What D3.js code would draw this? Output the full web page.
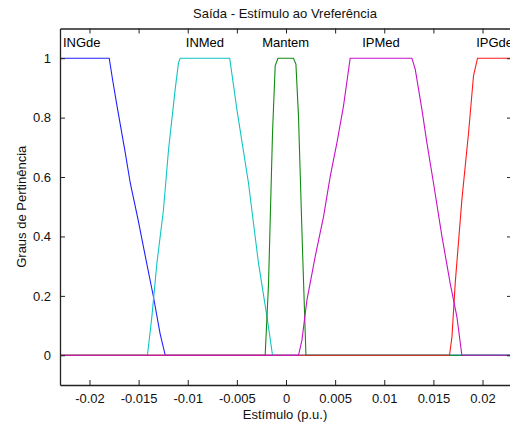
<!DOCTYPE html>
<html>
<head>
<meta charset="utf-8">
<script src="https://cdn.jsdelivr.net/npm/d3@7"></script>
<style>
  html, body { margin: 0; padding: 0; background: #fff; }
  svg { display: block; font-family: "Liberation Sans", Arial, Helvetica, sans-serif; }
</style>
</head>
<body>
<div id="chart"></div>
<script>
// ---- data ----
const title = "Saída - Estímulo ao Vreferência";
const xLabel = "Estímulo (p.u.)";
const yLabel = "Graus de Pertinência";
const xDomain = [-0.023, 0.023];
const yDomain = [-0.1, 1.1];
const xTicks = [-0.02, -0.015, -0.01, -0.005, 0, 0.005, 0.01, 0.015, 0.02];
const xTickLabels = ["-0.02", "-0.015", "-0.01", "-0.005", "0", "0.005", "0.01", "0.015", "0.02"];
const yTicks = [0, 0.2, 0.4, 0.6, 0.8, 1];
const yTickLabels = ["0", "0.2", "0.4", "0.6", "0.8", "1"];

const names = ["INGde", "INMed", "Mantem", "IPMed", "IPGde"];

const xINGde = [-0.023, -0.01799, -0.01766, -0.01715, -0.01640, -0.01585, -0.01505, -0.01418, -0.01349, -0.01282, -0.01229, 0.023];
const yINGde = [1, 1, 0.93, 0.83, 0.69, 0.58, 0.456, 0.31, 0.197, 0.074, 0, 0];

const xINMed = [-0.023, -0.01410, -0.01365, -0.01314, -0.01247, -0.01196, -0.01128, -0.01094, -0.01077, -0.00573, -0.00500, -0.00382, -0.00280, -0.00194, -0.00137, 0.023];
const yINMed = [0, 0, 0.13, 0.31, 0.49, 0.69, 0.895, 0.985, 1, 1, 0.828, 0.58, 0.31, 0.13, 0, 0];

const xMantem = [-0.023, -0.00212, -0.00178, -0.00137, -0.00110, -0.00082, 0.00076, 0.00101, 0.00127, 0.00168, 0.00203, 0.023];
const yMantem = [0, 0, 0.24, 0.75, 0.974, 1, 1, 0.98, 0.805, 0.355, 0, 0];

const xIPMed = [-0.023, 0.00127, 0.00162, 0.00213, 0.00297, 0.00382, 0.00450, 0.00518, 0.00585, 0.00653, 0.01281, 0.01315, 0.01383, 0.01434, 0.01501, 0.01587, 0.01671, 0.01739, 0.01790, 0.023];
const yIPMed = [0, 0, 0.05, 0.186, 0.332, 0.467, 0.602, 0.715, 0.839, 1, 1, 0.963, 0.828, 0.715, 0.58, 0.4, 0.242, 0.13, 0, 0];

const xIPGde = [-0.023, 0.01664, 0.01689, 0.01722, 0.01790, 0.01858, 0.01908, 0.01949, 0.023];
const yIPGde = [0, 0, 0.062, 0.242, 0.524, 0.749, 0.94, 1, 1];

const colors = ["#2020ff", "#10c4c4", "#108a10", "#c810c8", "#ff1a1a"];

// ---- build ----
const series = [
  { name: names[0], xs: xINGde, ys: yINGde, color: colors[0] },
  { name: names[1], xs: xINMed, ys: yINMed, color: colors[1] },
  { name: names[2], xs: xMantem, ys: yMantem, color: colors[2] },
  { name: names[3], xs: xIPMed, ys: yIPMed, color: colors[3] },
  { name: names[4], xs: xIPGde, ys: yIPGde, color: colors[4] }
];

const W = 510, H = 426;
const m = { left: 60, top: 28.5, right: 512, bottom: 385 };

const svg = d3.select("#chart").append("svg").attr("width", W).attr("height", H);

const x = d3.scaleLinear().domain(xDomain).range([m.left, m.right]);
const y = d3.scaleLinear().domain(yDomain).range([m.bottom, m.top]);

const defs = svg.append("defs");
defs.append("clipPath").attr("id", "clip").append("rect")
  .attr("x", m.left).attr("y", m.top).attr("width", m.right - m.left).attr("height", m.bottom - m.top);

// lines (drawn so the magenta-ish baseline shows on top)
const line = d3.line().x(d => x(d[0])).y(d => y(d[1]));
const order = [0, 1, 2, 4, 3];
const gLines = svg.append("g").attr("clip-path", "url(#clip)");
order.forEach(i => {
  const s = series[i];
  gLines.append("path")
    .datum(d3.zip(s.xs, s.ys))
    .attr("d", line)
    .attr("fill", "none")
    .attr("stroke", s.color)
    .attr("stroke-width", 1.1);
});

// labels of the membership functions
const lblY = y(1.05);
series.forEach((s, i) => {
  const plateau = s.xs.filter((v, j) => s.ys[j] === 1 && v > xDomain[0] && v < xDomain[1]);
  let px, anchor;
  if (i === 0) { px = x(xDomain[0]) + 3; anchor = "start"; }
  else if (i === series.length - 1) { px = x(xDomain[1]) + 1; anchor = "end"; }
  else { px = x((d3.min(plateau) + d3.max(plateau)) / 2); anchor = "middle"; }
  svg.append("text")
    .attr("x", px).attr("y", lblY)
    .attr("text-anchor", anchor)
    .attr("dominant-baseline", "middle")
    .attr("font-size", 13)
    .attr("fill", "#000")
    .text(s.name);
});

// axes (MATLAB style: inward ticks, box)
const axColor = "#222";
const tickLen = 5;
const xb = svg.append("g").attr("transform", `translate(0,${m.bottom})`)
  .call(d3.axisBottom(x).tickValues(xTicks).tickSizeInner(-tickLen).tickSizeOuter(0).tickPadding(9)
    .tickFormat((d, i) => xTickLabels[i]));
const xt = svg.append("g").attr("transform", `translate(0,${m.top})`)
  .call(d3.axisTop(x).tickValues(xTicks).tickSizeInner(-tickLen).tickSizeOuter(0).tickFormat(""));
const yl = svg.append("g").attr("transform", `translate(${m.left},0)`)
  .call(d3.axisLeft(y).tickValues(yTicks).tickSizeInner(-tickLen).tickSizeOuter(0).tickPadding(9)
    .tickFormat((d, i) => yTickLabels[i]));
const yr = svg.append("g").attr("transform", `translate(${m.right},0)`)
  .call(d3.axisRight(y).tickValues(yTicks).tickSizeInner(-tickLen).tickSizeOuter(0).tickFormat(""));

[xb, xt, yl, yr].forEach(g => {
  g.select(".domain").attr("stroke", axColor).attr("stroke-width", 1.3);
  g.selectAll(".tick line").attr("stroke", axColor);
  g.selectAll("text").attr("font-size", 13).attr("fill", "#111")
    .attr("font-family", "'Liberation Sans', Arial, sans-serif");
});

// title and axis labels
svg.append("text").attr("x", (m.left + m.right) / 2 - 1).attr("y", 18)
  .attr("text-anchor", "middle").attr("font-size", 13).attr("fill", "#111").text(title);
svg.append("text").attr("x", (m.left + m.right) / 2 - 1).attr("y", 419)
  .attr("text-anchor", "middle").attr("font-size", 13).attr("fill", "#111").text(xLabel);
svg.append("text")
  .attr("transform", `translate(26,${(m.top + m.bottom) / 2}) rotate(-90)`)
  .attr("text-anchor", "middle").attr("font-size", 13).attr("fill", "#111").text(yLabel);
</script>
</body>
</html>
